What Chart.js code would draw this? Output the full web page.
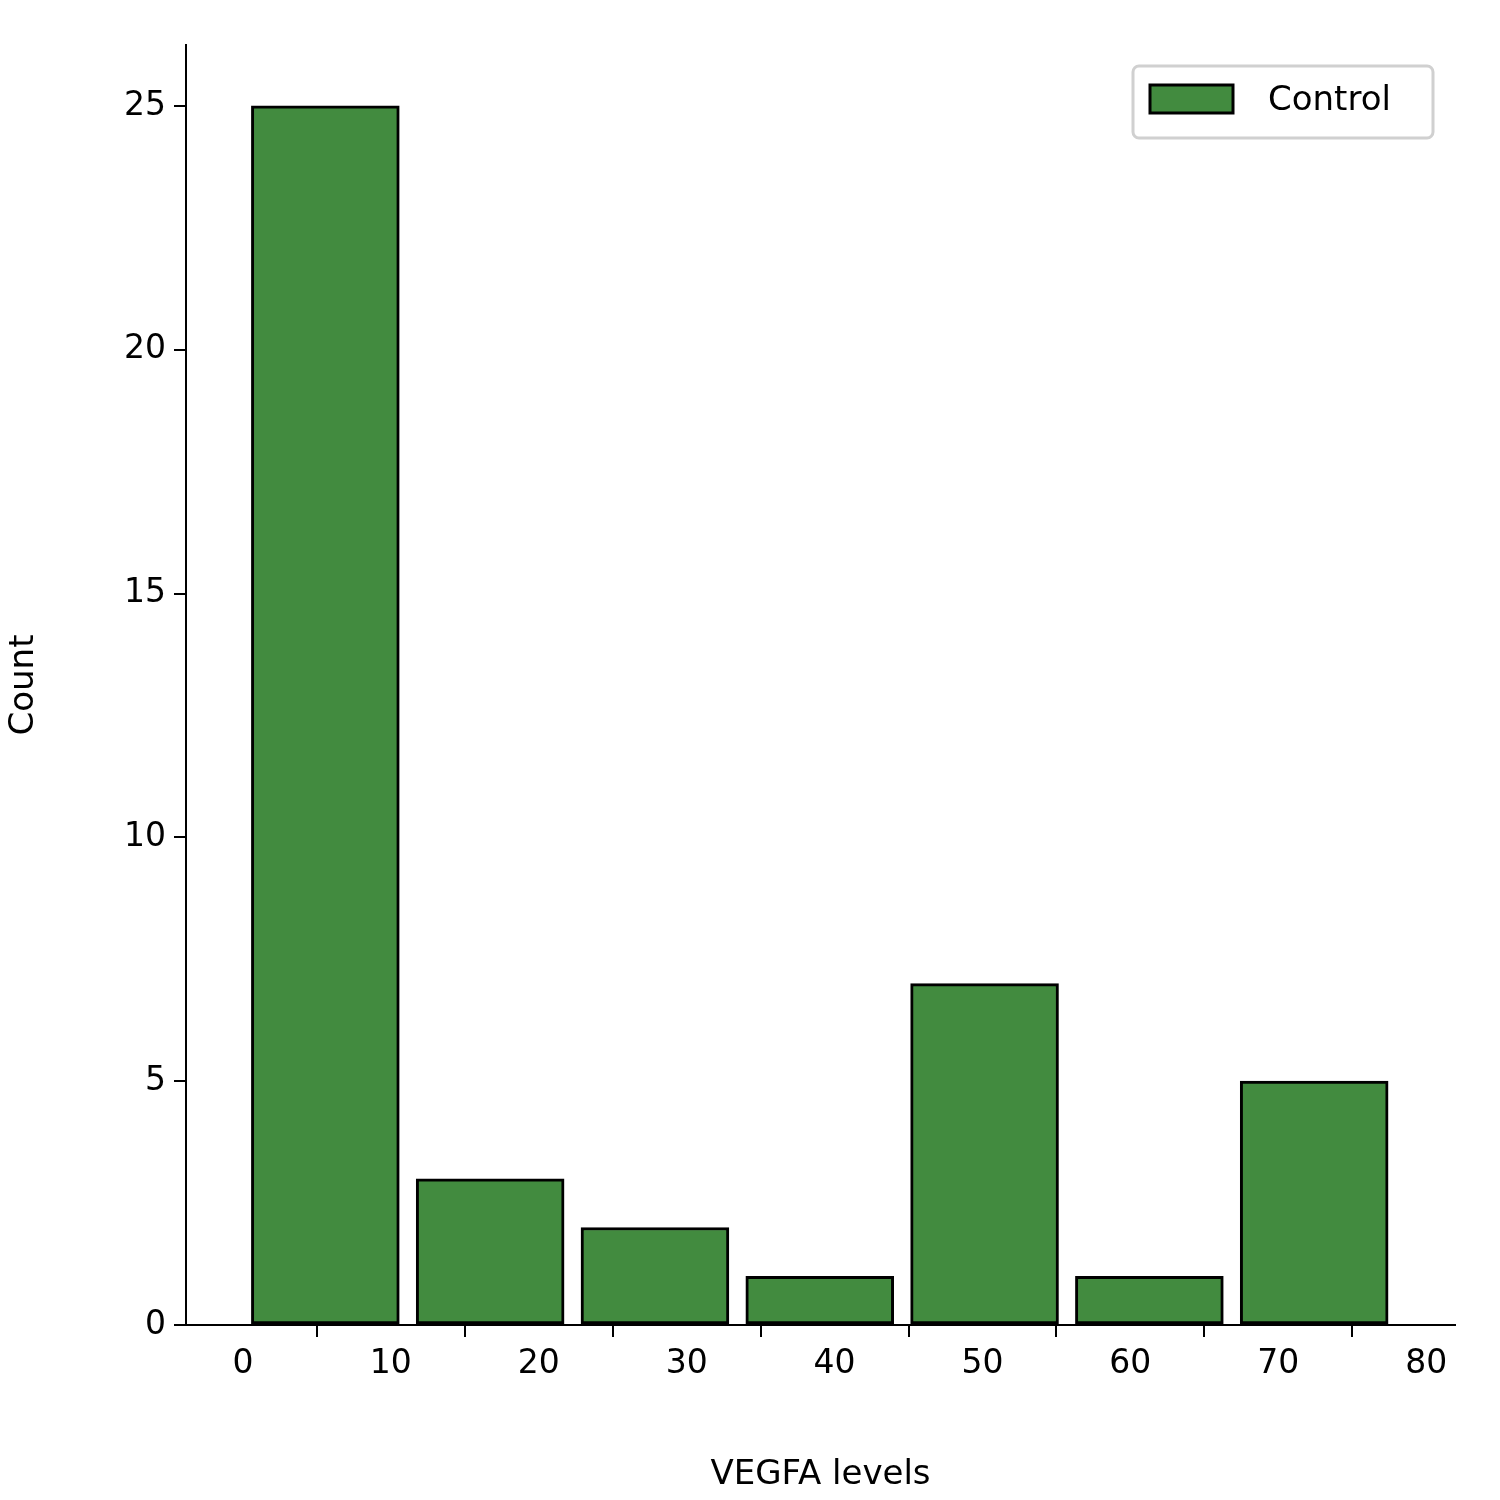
<!DOCTYPE html>
<html><head><script src="https://cdn.jsdelivr.net/npm/chart.js@4"></script>
<style>body{margin:0;background:#fff}</style></head>
<body><canvas id="c" width="1500" height="1500" style="width:1500px;height:1500px"></canvas>
<script>
const binMin = 0, binMax = 78;
const counts = [25, 3, 2, 1, 7, 1, 5];
const xTicks = [0, 10, 20, 30, 40, 50, 60, 70, 80];
const yTicks = [0, 5, 10, 15, 20, 25];
const seriesName = "Control";
const w = (binMax - binMin) / counts.length;
const data = counts.map((c, i) => ({x: binMin + w * (i + 0.5), y: c}));
const FONT = "DejaVu Sans";
const legendPlugin = {
  id: 'leg',
  afterDraw(ch) {
    const g = ch.ctx; g.save();
    const a = ch.chartArea;
    const bx = a.right - 322, by = a.top + 21;
    g.fillStyle = 'rgba(255,255,255,0.8)'; g.strokeStyle = '#d0d0d0'; g.lineWidth = 3;
    g.beginPath(); g.roundRect(bx, by, 300, 72, 6); g.fill(); g.stroke();
    g.fillStyle = '#428b3f'; g.strokeStyle = '#000'; g.lineWidth = 3;
    g.fillRect(bx + 17, by + 19, 83, 28); g.strokeRect(bx + 17, by + 19, 83, 28);
    g.fillStyle = '#000'; g.font = '34px ' + FONT; g.textBaseline = 'middle';
    g.fillText(seriesName, bx + 135, by + 35);
    g.restore();
  }
};
new Chart(document.getElementById('c'), {
  type: 'bar',
  data: {datasets: [{label: seriesName, data, backgroundColor: '#428b3f', borderColor: '#000', borderWidth: 3,
    barPercentage: 1, categoryPercentage: 1, borderSkipped: false}]},
  options: {
    responsive: false, animation: false, devicePixelRatio: 1,
    layout: {padding: {top: 45, right: 45, left: 0, bottom: 0}},
    plugins: {legend: {display: false}, tooltip: {enabled: false}},
    scales: {
      x: {type: 'linear', min: -3.85, max: 81.95, offset: false,
        afterBuildTicks: s => { s.ticks = xTicks.map(v => ({value: v})); },
        afterFit: s => { s.height = 175; },
        grid: {display: true, drawOnChartArea: false, tickLength: 12, color: '#000', lineWidth: 2},
        border: {color: '#000', width: 2},
        ticks: {color: '#000', font: {family: FONT, size: 33}, padding: 8},
        title: {display: true, text: 'VEGFA levels', color: '#000', font: {family: FONT, size: 34}, padding: {top: 12}}},
      y: {min: 0, max: 26.25,
        afterBuildTicks: s => { s.ticks = yTicks.map(v => ({value: v})); },
        afterFit: s => { s.width = 186; },
        grid: {display: true, drawOnChartArea: false, tickLength: 12, color: '#000', lineWidth: 2},
        border: {color: '#000', width: 2},
        ticks: {color: '#000', font: {family: FONT, size: 33}, padding: 8},
        title: {display: true, text: 'Count', color: '#000', font: {family: FONT, size: 34}, padding: {bottom: 40}}}
    }
  },
  plugins: [legendPlugin]
});
</script></body></html>
